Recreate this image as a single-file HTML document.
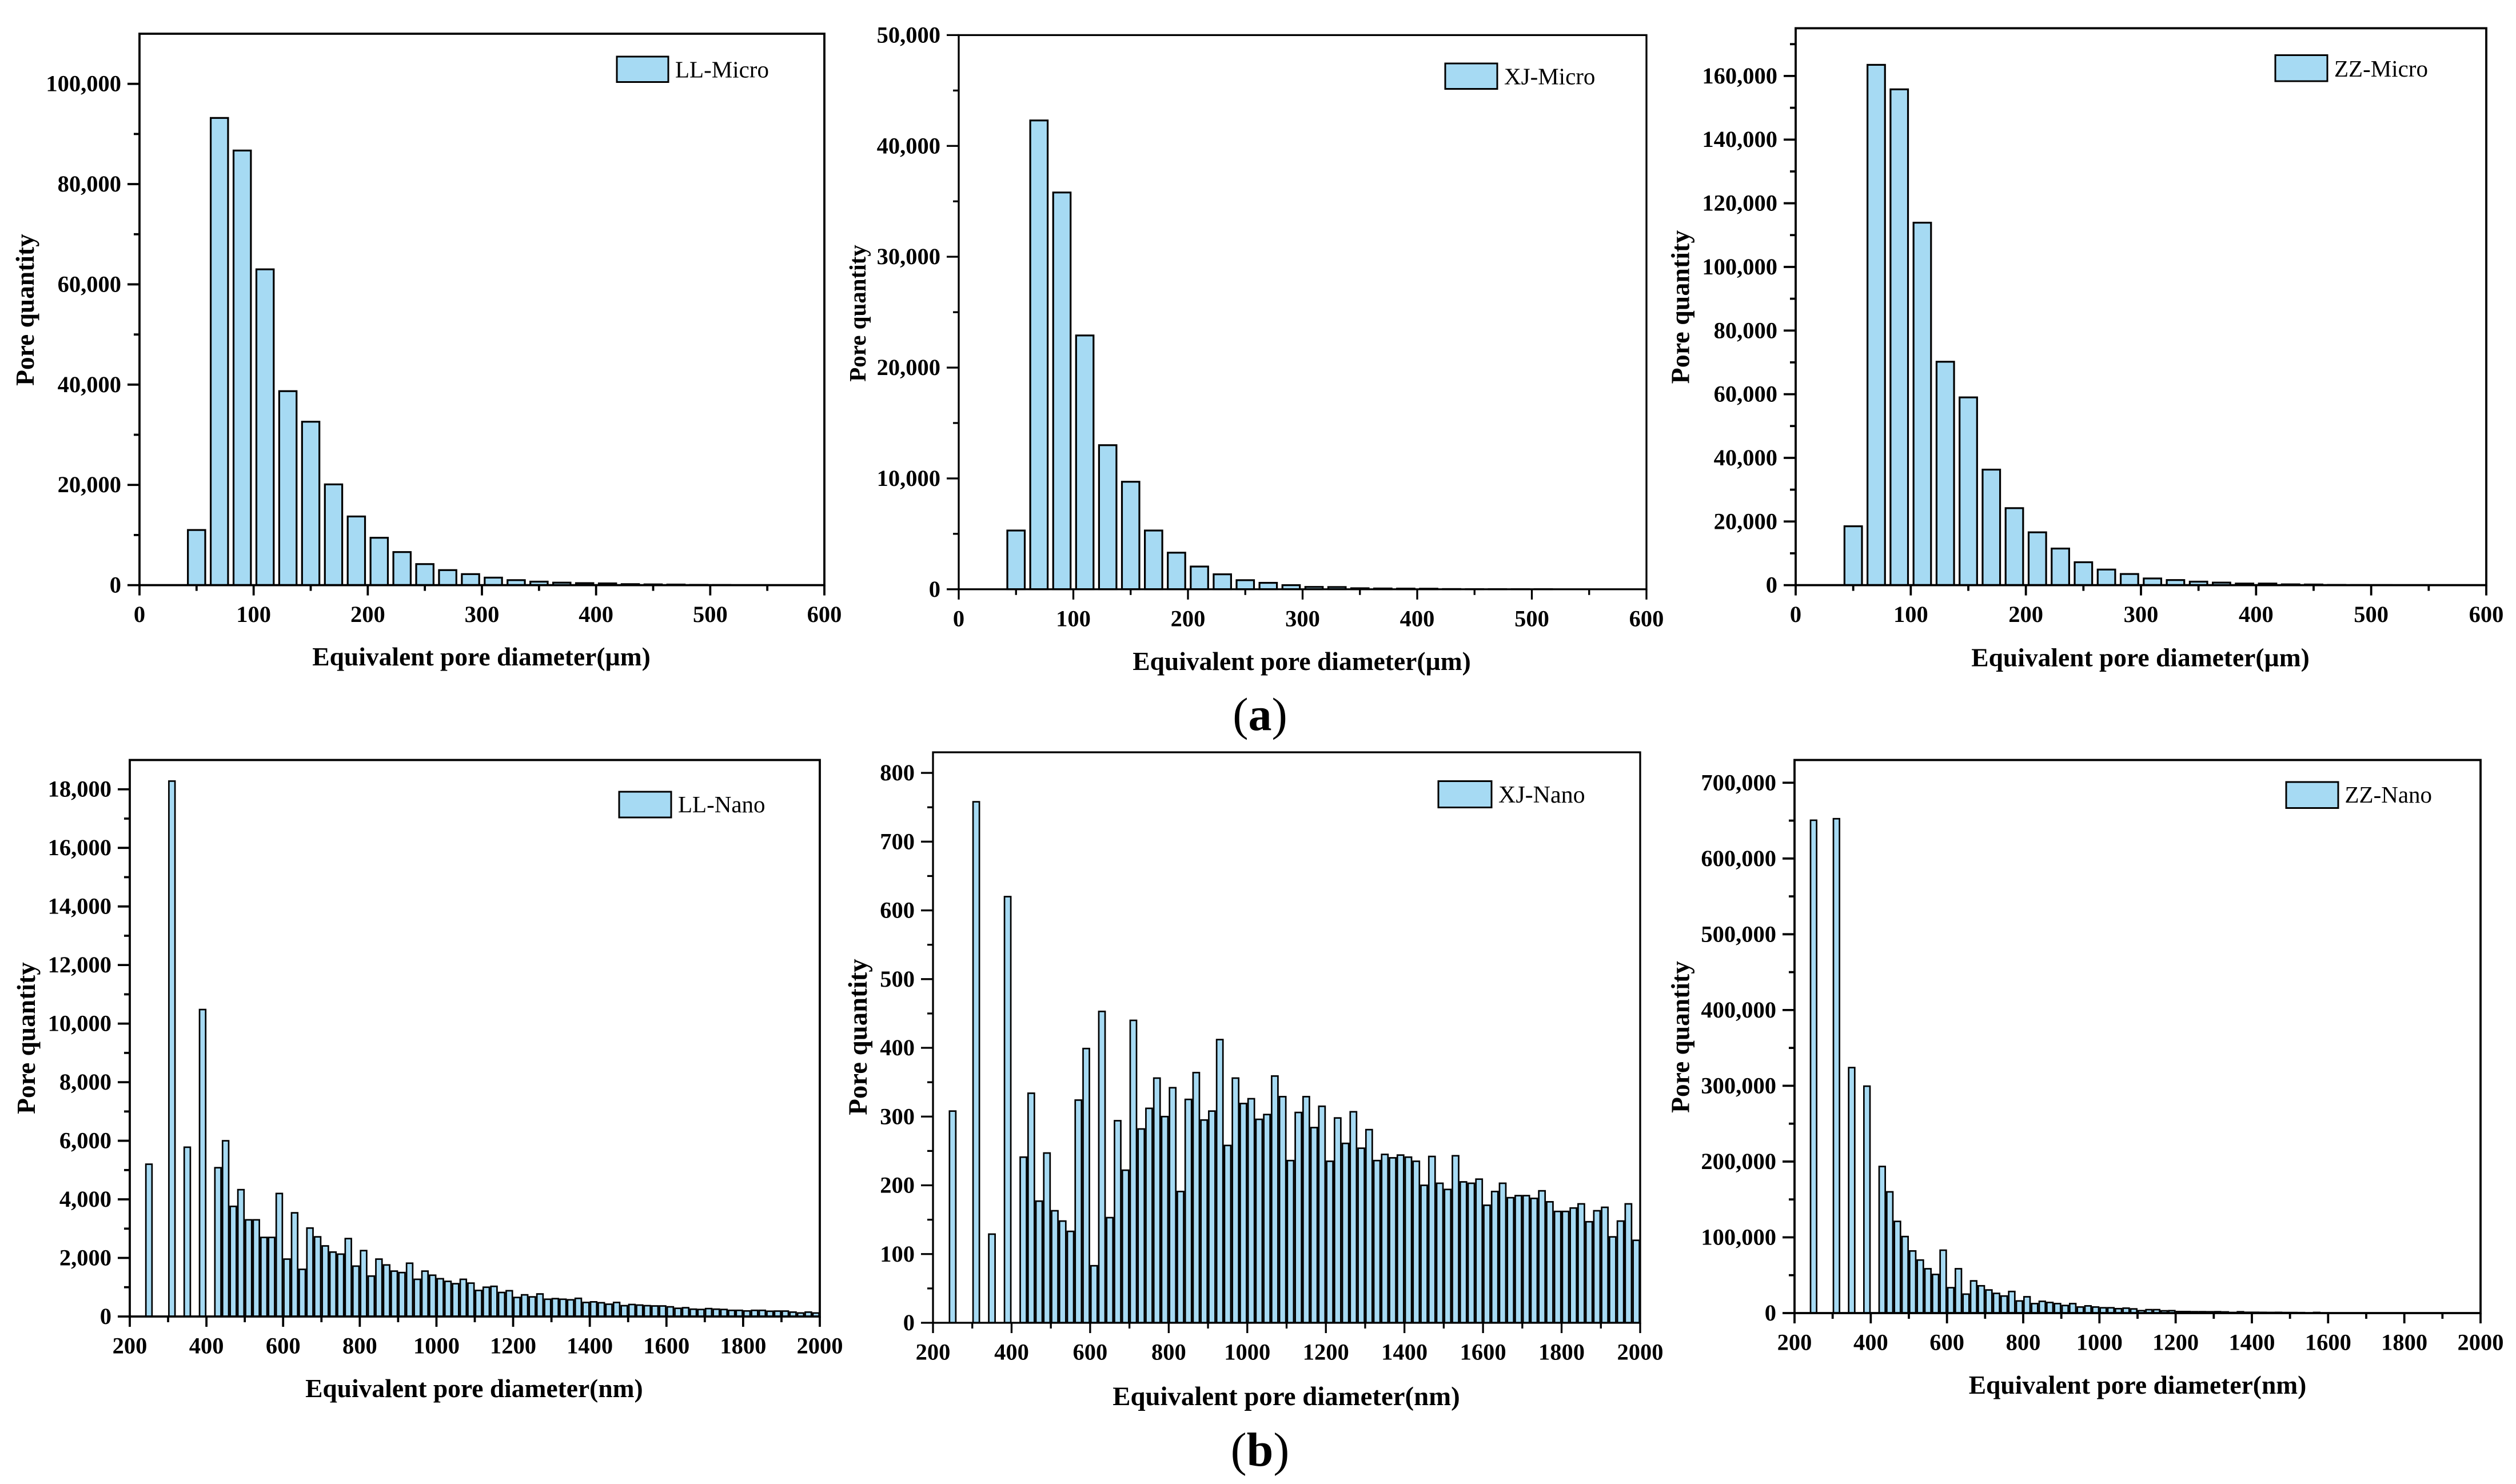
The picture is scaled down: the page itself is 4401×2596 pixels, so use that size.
<!DOCTYPE html>
<html lang="en">
<head>
<meta charset="utf-8">
<title>Pore size distributions</title>
<style>
html,body{margin:0;padding:0;background:#fff;}
svg{display:block;}
text{font-family:"Liberation Serif",serif;fill:#000;}
.tick{font-size:40.5px;font-weight:bold;}
.title{font-size:45.5px;font-weight:bold;}
.legend{font-size:41px;}
.panel{font-size:82px;}
</style>
</head>
<body>
<svg id="figure" xmlns="http://www.w3.org/2000/svg" width="4401" height="2596" viewBox="0 0 4401 2596">
  <rect x="0" y="0" width="4401" height="2596" fill="#fff"/>

  <g id="ll-micro">
    <text class="title" x="842" y="1164" text-anchor="middle">Equivalent pore diameter(µm)</text>
    <text class="title" transform="translate(59,542) rotate(-90)" text-anchor="middle">Pore quantity</text>
    <rect x="1079" y="99" width="90" height="44.5" fill="#a6daf3" stroke="#000" stroke-width="3"/>
    <text class="legend" x="1181" y="135.5">LL-Micro</text>
  </g>
  <g id="xj-micro">
    <text class="title" x="2277" y="1172" text-anchor="middle">Equivalent pore diameter(µm)</text>
    <text class="title" style="font-size:41px" transform="translate(1514,548) rotate(-90)" text-anchor="middle">Pore quantity</text>
    <rect x="2528" y="111" width="91" height="44.5" fill="#a6daf3" stroke="#000" stroke-width="3"/>
    <text class="legend" x="2631" y="147.5">XJ-Micro</text>
  </g>
  <g id="zz-micro">
    <text class="title" x="3744" y="1165.5" text-anchor="middle">Equivalent pore diameter(µm)</text>
    <text class="title" style="font-size:46px" transform="translate(2954.5,537) rotate(-90)" text-anchor="middle">Pore quantity</text>
    <rect x="3980" y="96.5" width="91" height="45.5" fill="#a6daf3" stroke="#000" stroke-width="3"/>
    <text class="legend" x="4083" y="134">ZZ-Micro</text>
  </g>
  <g id="ll-nano">
    <text class="title" x="829.4" y="2444" text-anchor="middle">Equivalent pore diameter(nm)</text>
    <text class="title" transform="translate(61,1816) rotate(-90)" text-anchor="middle">Pore quantity</text>
    <rect x="1083" y="1385" width="91" height="45" fill="#a6daf3" stroke="#000" stroke-width="3"/>
    <text class="legend" x="1186" y="1421">LL-Nano</text>
  </g>
  <g id="xj-nano">
    <text class="title" style="font-size:46.8px" x="2250" y="2458" text-anchor="middle">Equivalent pore diameter(nm)</text>
    <text class="title" style="font-size:46.8px" transform="translate(1516,1814) rotate(-90)" text-anchor="middle">Pore quantity</text>
    <rect x="2516" y="1366.5" width="93" height="46" fill="#a6daf3" stroke="#000" stroke-width="3"/>
    <text class="legend" style="font-size:42px" x="2621" y="1404">XJ-Nano</text>
  </g>
  <g id="zz-nano">
    <text class="title" x="3739" y="2438" text-anchor="middle">Equivalent pore diameter(nm)</text>
    <text class="title" transform="translate(2954.5,1814) rotate(-90)" text-anchor="middle">Pore quantity</text>
    <rect x="3999" y="1368" width="91" height="45.5" fill="#a6daf3" stroke="#000" stroke-width="3"/>
    <text class="legend" x="4101.5" y="1404">ZZ-Nano</text>
  </g>

  <text class="panel" x="2204" y="1277" text-anchor="middle">(<tspan font-weight="bold">a</tspan>)</text>
  <text class="panel" style="font-size:84px" x="2204" y="2564" text-anchor="middle">(<tspan font-weight="bold">b</tspan>)</text>
</svg>

<script>
// ---- categories (bin centres) ----
const microBins = [50,70,90,110,130,150,170,190,210,230,250,270,290,310,330,350,370,390,410,430,450,470,490,510];
const nanoBins = [250,310,350,390,430,450,470,490,510,530,550,570,590,610,630,650,670,690,710,730,750,770,790,810,830,850,870,890,910,930,950,970,990,1010,1030,1050,1070,1090,1110,1130,1150,1170,1190,1210,1230,1250,1270,1290,1310,1330,1350,1370,1390,1410,1430,1450,1470,1490,1510,1530,1550,1570,1590,1610,1630,1650,1670,1690,1710,1730,1750,1770,1790,1810,1830,1850,1870,1890,1910,1930,1950,1970,1990];

// ---- series values ----
const llMicro = [11000,93200,86700,63000,38700,32600,20100,13700,9450,6600,4200,3000,2200,1500,1000,700,500,400,350,200,150,120,60,30];
const xjMicro = [5300,42300,35800,22900,13000,9700,5300,3300,2050,1350,820,580,370,210,200,90,70,60,50,20,10,10,5,5];
const zzMicro = [18500,163500,155800,113900,70200,59000,36300,24200,16600,11500,7200,4900,3500,2100,1600,1100,800,500,500,250,200,80,40,20];
const llNano = [5200,18280,5780,10480,5080,6000,3760,4330,3300,3300,2700,2700,4200,1960,3540,1610,3020,2720,2410,2200,2130,2660,1720,2250,1380,1960,1760,1550,1500,1820,1270,1550,1410,1290,1200,1120,1270,1140,890,1000,1030,820,880,650,740,670,770,590,610,590,570,620,480,500,470,420,480,370,410,390,370,360,360,330,280,300,250,240,270,250,240,210,210,190,210,210,180,185,185,150,120,150,120];
const xjNano = [308,758,129,620,241,334,177,247,163,148,133,324,399,83,453,153,294,222,440,282,312,356,300,342,191,325,364,295,308,412,258,356,319,326,296,303,359,329,236,306,329,284,315,235,298,261,307,254,281,236,245,240,244,241,235,200,242,203,194,243,205,203,209,171,191,203,182,185,185,181,192,176,162,162,167,173,147,163,168,125,148,173,120];
const zzNano = [650500,652500,324000,299500,193500,160000,121000,101000,82000,70000,58500,51000,83000,33500,58500,25000,42500,36000,30500,26000,22500,28500,16000,21500,12500,15500,14000,12500,10000,12500,8000,9500,8000,7000,7000,5800,6500,5500,3200,4500,4500,3000,3200,2000,2000,1800,1800,1700,1800,1500,800,1700,1000,1000,900,800,900,700,700,600,100,800,100,0,0,0,0,0,0,0,0,0,0,0,0,0,0,0,0,0,0,0,0];

// ---- tick labels ----
const microXTicks = [0,100,200,300,400,500,600];
const nanoXTicks = [200,400,600,800,1000,1200,1400,1600,1800,2000];
const llMicroYTicks = [0,20000,40000,60000,80000,100000];
const xjMicroYTicks = [0,10000,20000,30000,40000,50000];
const zzMicroYTicks = [0,20000,40000,60000,80000,100000,120000,140000,160000];
const llNanoYTicks = [0,2000,4000,6000,8000,10000,12000,14000,16000,18000];
const xjNanoYTicks = [0,100,200,300,400,500,600,700,800];
const zzNanoYTicks = [0,100000,200000,300000,400000,500000,600000,700000];

const SVG_NS = 'http://www.w3.org/2000/svg';

function makeLine(parent, x1, y1, x2, y2, sw) {
  const l = document.createElementNS(SVG_NS, 'line');
  l.setAttribute('x1', x1);
  l.setAttribute('y1', y1);
  l.setAttribute('x2', x2);
  l.setAttribute('y2', y2);
  l.setAttribute('stroke', '#000');
  l.setAttribute('stroke-width', sw);
  parent.appendChild(l);
  return l;
}

function drawChart(cfg) {
  const root = document.getElementById(cfg.id);
  const sx = v => cfg.left + (v - cfg.xMin) / (cfg.xMax - cfg.xMin) * (cfg.right - cfg.left);
  const sy = v => cfg.bottom - v / cfg.yMax * (cfg.bottom - cfg.top);
  const pitch = sx(cfg.xMin + cfg.binWidth) - sx(cfg.xMin);
  const outer = pitch * cfg.barFrac;
  const inner = outer - cfg.barStroke;

  const barsGroup = document.createElementNS(SVG_NS, 'g');
  
  
  root.appendChild(barsGroup);

  cfg.bins.forEach((bin, i) => {
    const value = cfg.values[i];
    if (!(value > 0)) return;
    const top = sy(value);
    const bar = document.createElementNS(SVG_NS, 'rect');
    bar.setAttribute('x', sx(bin) - inner / 2);
    bar.setAttribute('y', top);
    bar.setAttribute('width', inner);
    bar.setAttribute('height', Math.max(cfg.bottom - top, 0));
    bar.setAttribute('fill', '#a6daf3');
    bar.setAttribute('stroke', '#000');
    bar.setAttribute('stroke-width', cfg.barStroke);
    
    
    barsGroup.appendChild(bar);
  });

  const frame = document.createElementNS(SVG_NS, 'rect');
  frame.setAttribute('x', cfg.left);
  frame.setAttribute('y', cfg.top);
  frame.setAttribute('width', cfg.right - cfg.left);
  frame.setAttribute('height', cfg.bottom - cfg.top);
  frame.setAttribute('fill', 'none');
  frame.setAttribute('stroke', '#000');
  frame.setAttribute('stroke-width', cfg.axisStroke);
  
  
  root.appendChild(frame);

  const xAxis = document.createElementNS(SVG_NS, 'g');
  
  
  root.appendChild(xAxis);

  const xStep = cfg.xTicks[1] - cfg.xTicks[0];
  cfg.xTicks.forEach(v => {
    const x = sx(v);
    const major = makeLine(xAxis, x, cfg.bottom, x, cfg.bottom + 18, cfg.axisStroke);
    
    
    if (v + xStep / 2 < cfg.xMax) {
      const mx = sx(v + xStep / 2);
      const minor = makeLine(xAxis, mx, cfg.bottom, mx, cfg.bottom + 10, cfg.axisStroke);
      
      
    }
    const label = document.createElementNS(SVG_NS, 'text');
    label.setAttribute('class', 'tick');
    label.setAttribute('x', x);
    label.setAttribute('y', cfg.bottom + 64.5);
    label.setAttribute('text-anchor', 'middle');
    
    
    label.textContent = String(v);
    xAxis.appendChild(label);
  });

  const yAxis = document.createElementNS(SVG_NS, 'g');
  
  
  root.appendChild(yAxis);

  const yStep = cfg.yTicks[1] - cfg.yTicks[0];
  cfg.yTicks.forEach(v => {
    const y = sy(v);
    const major = makeLine(yAxis, cfg.left - 21, y, cfg.left, y, cfg.axisStroke);
    
    
    if (v + yStep / 2 < cfg.yMax) {
      const my = sy(v + yStep / 2);
      const minor = makeLine(yAxis, cfg.left - 10, my, cfg.left, my, cfg.axisStroke);
      
      
    }
    const label = document.createElementNS(SVG_NS, 'text');
    label.setAttribute('class', 'tick');
    label.setAttribute('x', cfg.left - 32);
    label.setAttribute('y', y + 13);
    label.setAttribute('text-anchor', 'end');
    
    
    label.textContent = v.toLocaleString('en-US');
    yAxis.appendChild(label);
  });
}

drawChart({id:'ll-micro', left:244, right:1442, top:59, bottom:1023.6, xMin:0, xMax:600, yMax:110000, binWidth:20, barFrac:0.84, barStroke:3.2, axisStroke:3.8, bins:microBins, values:llMicro, xTicks:microXTicks, yTicks:llMicroYTicks});
drawChart({id:'xj-micro', left:1677, right:2880, top:61.4, bottom:1030.8, xMin:0, xMax:600, yMax:50000, binWidth:20, barFrac:0.84, barStroke:3.2, axisStroke:3.3, bins:microBins, values:xjMicro, xTicks:microXTicks, yTicks:xjMicroYTicks});
drawChart({id:'zz-micro', left:3141, right:4349, top:49.4, bottom:1023.6, xMin:0, xMax:600, yMax:175000, binWidth:20, barFrac:0.84, barStroke:3.2, axisStroke:3.8, bins:microBins, values:zzMicro, xTicks:microXTicks, yTicks:zzMicroYTicks});
drawChart({id:'ll-nano', left:227, right:1434, top:1329.5, bottom:2303, xMin:200, xMax:2000, yMax:19000, binWidth:20, barFrac:1, barStroke:2.7, axisStroke:3.8, bins:nanoBins, values:llNano, xTicks:nanoXTicks, yTicks:llNanoYTicks});
drawChart({id:'xj-nano', left:1632, right:2869, top:1316, bottom:2314, xMin:200, xMax:2000, yMax:830, binWidth:20, barFrac:1, barStroke:2.7, axisStroke:3.3, bins:nanoBins, values:xjNano, xTicks:nanoXTicks, yTicks:xjNanoYTicks});
drawChart({id:'zz-nano', left:3139, right:4339, top:1329.5, bottom:2297, xMin:200, xMax:2000, yMax:730000, binWidth:20, barFrac:1, barStroke:2.7, axisStroke:3.8, bins:nanoBins, values:zzNano, xTicks:nanoXTicks, yTicks:zzNanoYTicks});
</script>
</body>
</html>
